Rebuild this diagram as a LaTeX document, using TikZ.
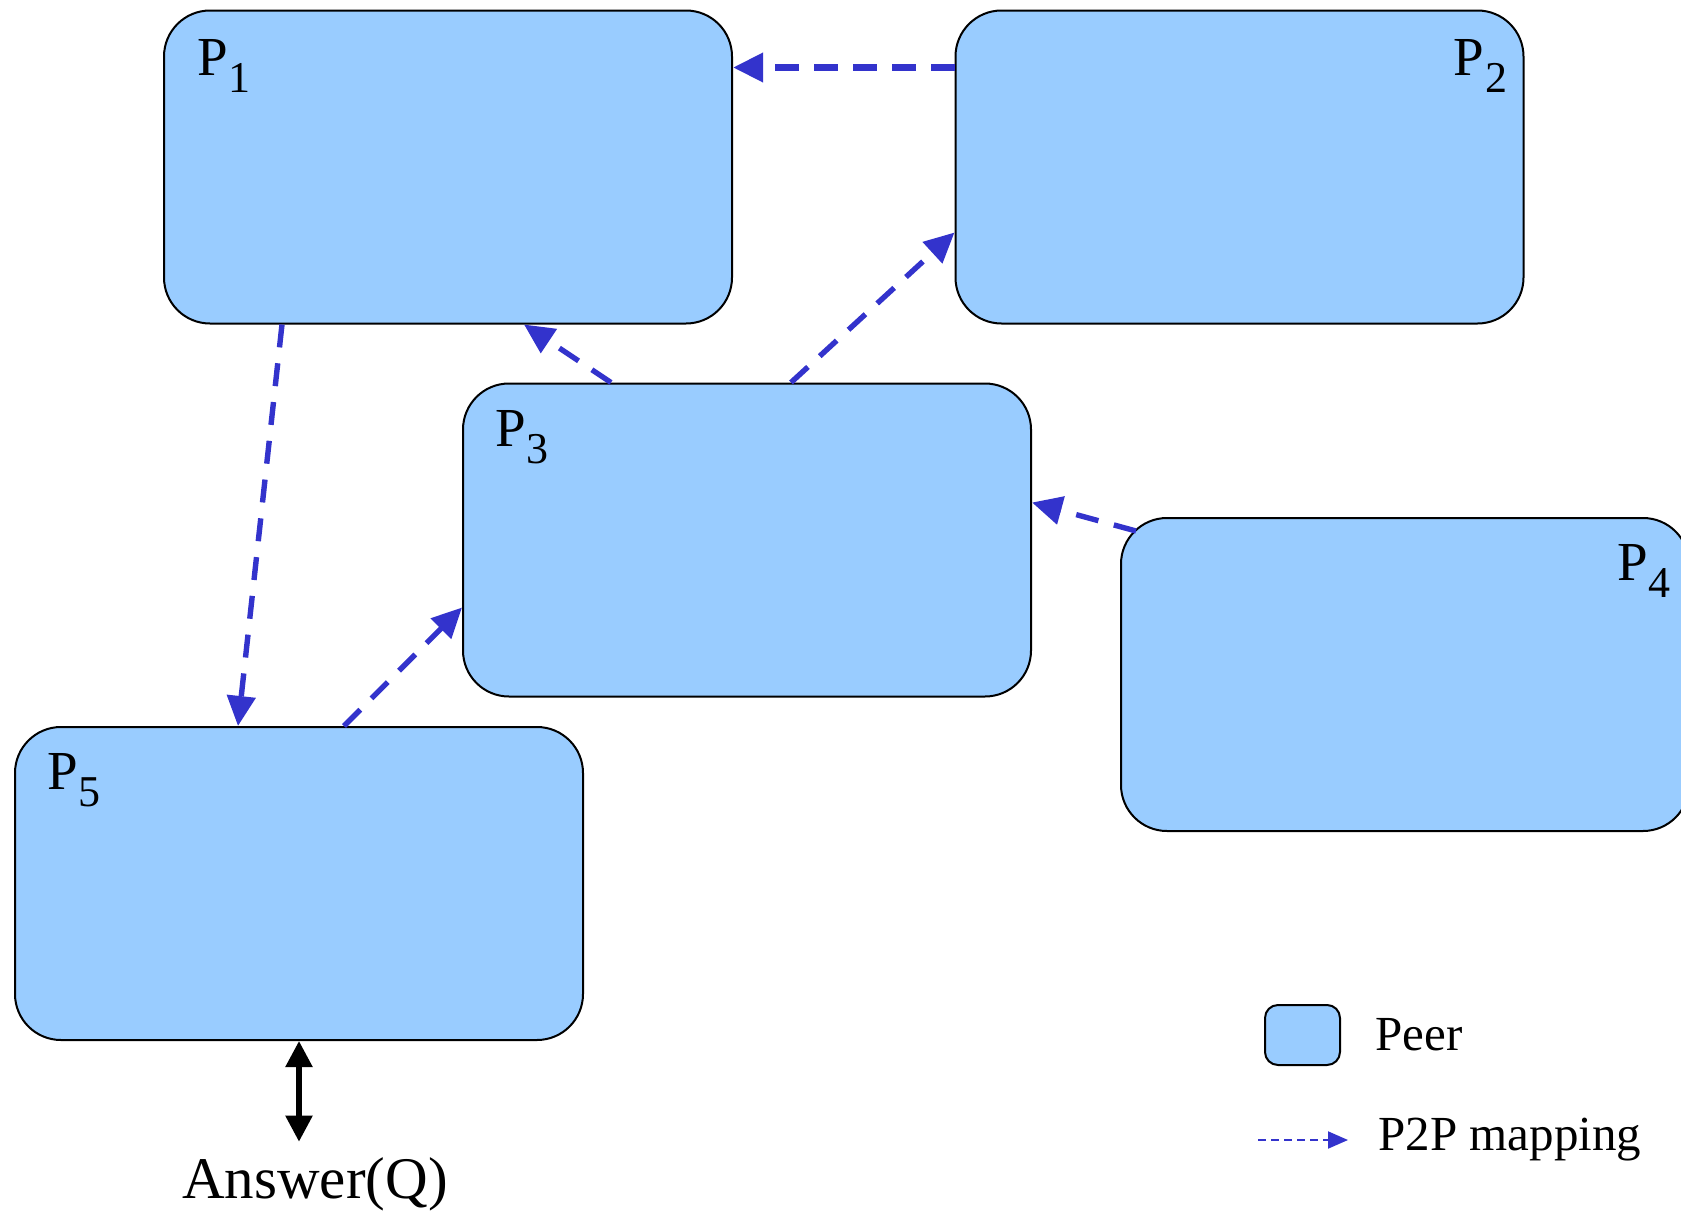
\documentclass[tikz,border=0pt]{standalone}
\usepackage{fontspec}
\setmainfont{Liberation Serif}
\usetikzlibrary{positioning, arrows.meta}
\definecolor{peerblue}{HTML}{99CCFF}
\definecolor{mapblue}{HTML}{3333CC}
\newcommand{\pname}[1]{P\kern0.5pt\raisebox{-8.5pt}{\fontsize{22}{22}\selectfont #1}}

\begin{document}
\begin{tikzpicture}[x=0.5pt, y=-0.5pt,
  peer/.style={draw, line width=1pt, fill=peerblue, rounded corners=23pt,
    minimum width=284pt, minimum height=156.5pt, inner sep=0pt},
  pname/.style={inner sep=0pt, font=\fontsize{27.5}{30}\selectfont},
  map/.style={draw=mapblue, line width=2.7pt, dash pattern=on 11.5pt off 8pt,
    -{Triangle[length=15pt, width=14pt, fill=mapblue]}},
  legtext/.style={inner sep=0pt, font=\fontsize{24.5}{28}\selectfont}]
  \useasboundingbox (0,0) rectangle (1681,1210);

  % Peers
  \node[peer] (p1) at (448,167) {};
  \node[peer] (p2) at (1239.5,167) {};
  \node[peer] (p3) at (747,540) {};
  \node[peer] (p4) at (1405,674.5) {};
  \node[peer] (p5) at (299,883.5) {};

  \node[pname, anchor=north west] (l1) at ([shift={(17pt,-15pt)}]p1.north west) {\pname{1}};
  \node[pname, anchor=north east] (l2) at ([shift={(-8.5pt,-15pt)}]p2.north east) {\pname{2}};
  \node[pname, anchor=north west] (l3) at ([shift={(16.5pt,-14pt)}]p3.north west) {\pname{3}};
  \node[pname, anchor=north east] (l4) at ([shift={(-9.5pt,-13.5pt)}]p4.north east) {\pname{4}};
  \node[pname, anchor=north west] (l5) at ([shift={(16.5pt,-13.5pt)}]p5.north west) {\pname{5}};

  % Mappings
  \draw[map, line width=3.3pt, dash pattern=on 12pt off 7.5pt]
    ([yshift=-29pt]p2.north west) -- ([yshift=-29pt]p1.north east);
  \draw[map] ([xshift=74.5pt]p3.north west) -- ([xshift=180.5pt]p1.south west);
  \draw[map] ([xshift=164.5pt]p3.north west) -- ([yshift=-111.5pt]p2.north west);
  \draw[map] ([shift={(8pt,-7pt)}]p4.north west) -- ([yshift=-60pt]p3.north east);
  \draw[map] ([xshift=59.5pt]p1.south west) -- ([xshift=112pt]p5.north west);
  \draw[map] ([xshift=165pt]p5.north west) -- ([yshift=-112.5pt]p3.north west);

  % Query answer
  \node[inner sep=0pt, font=\fontsize{29.5}{32}\selectfont, anchor=base] (ans) at (315,1198) {Answer(Q)};
  \draw[line width=2.7pt, {Triangle[length=13pt, width=13pt]}-{Triangle[length=13pt, width=13pt]}]
    (p5.south) -- ([yshift=7.5pt]p5.south |- ans.north);

  % Legend
  \node[draw, line width=1pt, fill=peerblue, rounded corners=6.5pt,
    minimum width=37.5pt, minimum height=30pt, inner sep=0pt] (legbox) at (1302.5,1035) {};
  \node[legtext, right=17pt of legbox] (peertxt) {Peer};
  \node[legtext, anchor=base west] (maptxt) at (1378,1150) {P2P mapping};
  \coordinate (legs) at (1258,1140);
  \coordinate (lege) at (1348,1140);
  \draw[draw=mapblue, line width=1pt, dash pattern=on 4pt off 2.5pt,
    -{Triangle[length=10pt, width=8.5pt, fill=mapblue]}] (legs) -- (lege);
\end{tikzpicture}
\end{document}
